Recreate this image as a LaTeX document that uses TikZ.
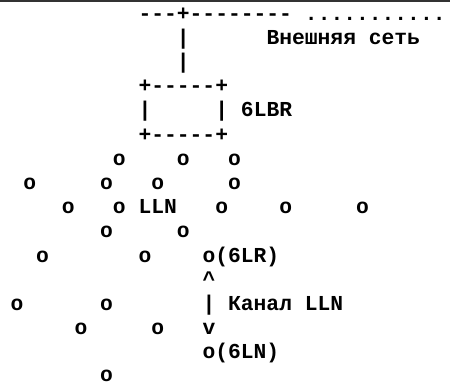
\documentclass[tikz,border=0pt]{standalone}
\usepackage{fontspec}
\newfontfamily\asciifont{Liberation Mono}
\tikzset{txt/.style={anchor=mid west, inner sep=0pt, outer sep=0pt, yshift=-3pt,
  font=\asciifont\bfseries\fontsize{21.3}{24}\selectfont}}

\begin{document}
\begin{tikzpicture}[x=12.8pt,y=-24.2pt]
\useasboundingbox (-0.828,-0.62) rectangle (34.33,15.25);
\fill[black!80] (-0.828,-0.62) rectangle (34.33,-0.558);

% external network
\node[txt] (wan) at (10,0) {---+--------};
\node[txt] (wandots) at (23,0) {...........};
\node[txt] (uplink1) at (13,1) {|};
\node[txt] (wanlbl) at (20,1) {Внешняя сеть};
\node[txt] (uplink2) at (13,2) {|};

% border router
\node[txt] (brtop) at (10,3) {+-----+};
\node[txt] (brleft) at (10,4) {|};
\node[txt] (brright) at (16,4) {|};
\node[txt] (brlbl) at (18,4) {6LBR};
\node[txt] (brbot) at (10,5) {+-----+};

% lln nodes
\foreach \c/\r in {8/6,13/6,17/6, 1/7,7/7,11/7,17/7, 4/8,8/8,16/8,21/8,27/8,
  7/9,13/9, 2/10,10/10, 0/12,7/12, 5/13,11/13}
  \node[txt] (o-\c-\r) at (\c,\r) {o};
\node[txt,yshift=2pt] (o-7-15) at (7,15) {o};
\node[txt] (lln) at (10,8) {LLN};

% link
\node[txt] (lr) at (15,10) {o(6LR)};
\node[txt] (up) at (15,11) {\^{}};
\node[txt] (link) at (15,12) {| Канал LLN};
\node[txt] (down) at (15,13) {v};
\node[txt] (ln) at (15,14) {o(6LN)};

\end{tikzpicture}
\end{document}
